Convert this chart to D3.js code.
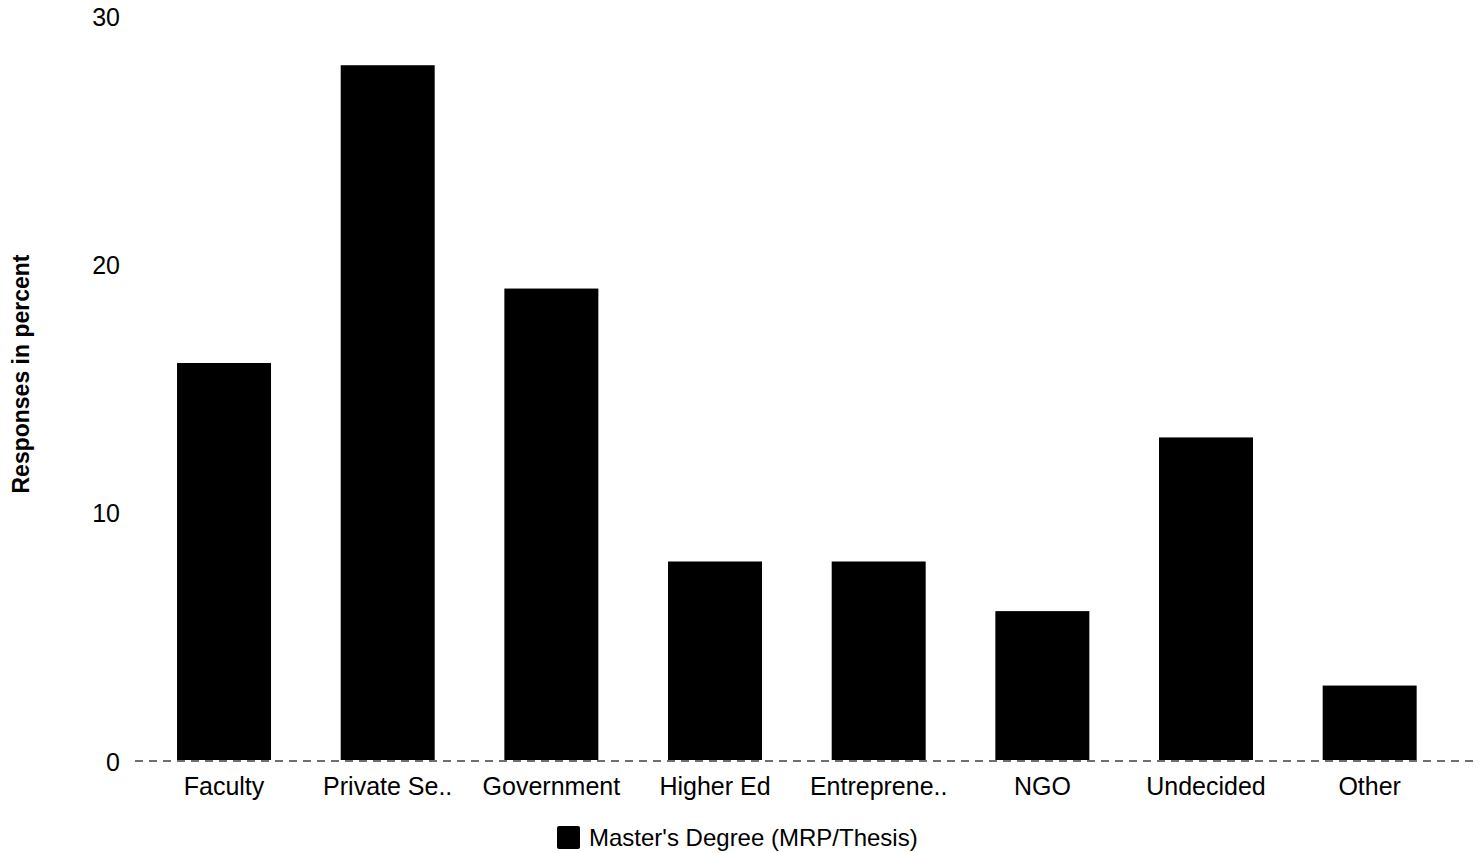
<!DOCTYPE html>
<html>
<head>
<meta charset="utf-8">
<script src="https://cdn.jsdelivr.net/npm/d3@7"></script>
<style>
  html, body { margin: 0; padding: 0; background: #fff; }
  svg { display: block; font-family: "Liberation Sans", Arial, sans-serif; }
</style>
</head>
<body>
<svg id="chart" width="1480" height="853"></svg>
<script>
const categories = ["Faculty", "Private Se..", "Government", "Higher Ed", "Entreprene..", "NGO", "Undecided", "Other"];
const values = [16, 28, 19, 8, 8, 6, 13, 3];
const yTicks = [0, 10, 20, 30];
const seriesName = "Master's Degree (MRP/Thesis)";
const yTitle = "Responses in percent";

const svg = d3.select("#chart");

const x = d3.scaleBand()
  .domain(categories)
  .range([142.2, 1451.5])
  .paddingInner(0.4257)
  .paddingOuter(0.4257 / 2);

const y = d3.scaleLinear()
  .domain([0, 30])
  .range([760, 15.6]);

// bars
svg.append("g").selectAll("rect")
  .data(categories.map((c, i) => ({ c, v: values[i] })))
  .join("rect")
  .attr("x", d => x(d.c))
  .attr("y", d => y(d.v))
  .attr("width", x.bandwidth())
  .attr("height", d => y(0) - y(d.v))
  .attr("fill", "#000");

// baseline dashed
svg.append("line")
  .attr("x1", 135).attr("x2", 1473)
  .attr("y1", y(0) + 1).attr("y2", y(0) + 1)
  .attr("stroke", "#6e6e6e")
  .attr("stroke-width", 2)
  .attr("stroke-dasharray", "8,6");

// y axis ticks
const yAxis = d3.axisLeft(y).tickValues(yTicks).tickSize(0).tickPadding(0);
const gy = svg.append("g").attr("transform", "translate(120,0)").call(yAxis);
gy.select(".domain").remove();
gy.selectAll("text")
  .attr("font-size", 25)
  .attr("font-family", "Liberation Sans, Arial, sans-serif")
  .attr("fill", "#000")
  .attr("dy", "0.4em");

// x axis labels
const xAxis = d3.axisBottom(x).tickSize(0).tickPadding(0);
const gx = svg.append("g").attr("transform", "translate(0,795)").call(xAxis);
gx.select(".domain").remove();
gx.selectAll("text")
  .attr("font-size", 25)
  .attr("font-family", "Liberation Sans, Arial, sans-serif")
  .attr("fill", "#000")
  .attr("dy", 0)
  .attr("y", 0);

// y title
svg.append("text")
  .attr("transform", "translate(29,374) rotate(-90)")
  .attr("text-anchor", "middle")
  .attr("font-size", 23)
  .attr("font-weight", "bold")
  .attr("fill", "#000")
  .text(yTitle);

// legend
const lg = svg.append("g");
lg.append("rect")
  .attr("x", 557).attr("y", 826)
  .attr("width", 23).attr("height", 23)
  .attr("rx", 2)
  .attr("fill", "#000");
lg.append("text")
  .attr("x", 589).attr("y", 846)
  .attr("font-size", 24)
  .attr("fill", "#000")
  .text(seriesName);
</script>
</body>
</html>
